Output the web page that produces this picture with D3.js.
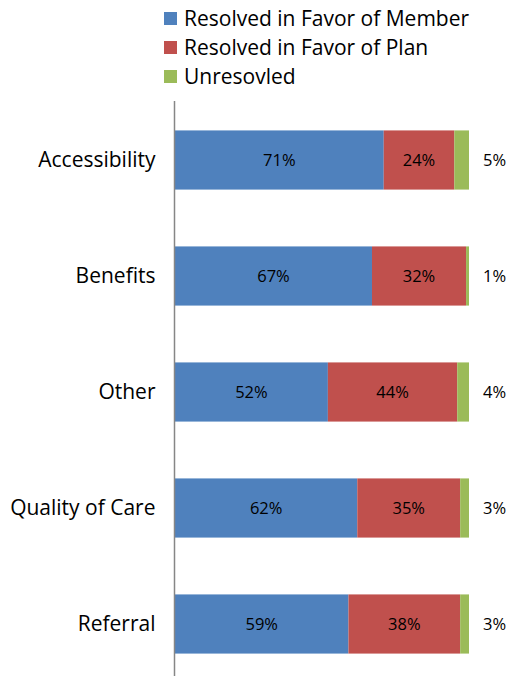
<!DOCTYPE html>
<html><head><meta charset="utf-8">
<script src="https://cdn.jsdelivr.net/npm/d3@7"></script>
<style>body{margin:0;background:#fff}svg{display:block}text{font-family:"Open Sans",sans-serif;fill:#000}</style>
</head><body>
<script>
const categories = ["Accessibility","Benefits","Other","Quality of Care","Referral"];
const seriesNames = ["Resolved in Favor of Member","Resolved in Favor of Plan","Unresovled"];
const member = [71,67,52,62,59];
const plan = [24,32,44,35,38];
const unresolved = [5,1,4,3,3];
const colors = ["#4F81BD","#C0504D","#9BBB59"];

const W=508,H=676;
const svg=d3.select("body").append("svg").attr("width",W).attr("height",H);
const x=d3.scaleLinear().domain([0,100]).range([175,469]);
const y=d3.scaleBand().domain(categories).range([102,682]).paddingInner(0.49).paddingOuter(0.245);

const rows=categories.map((c,i)=>({cat:c,member:member[i],plan:plan[i],unresolved:unresolved[i]}));
const stack=d3.stack().keys(["member","plan","unresolved"])(rows);

stack.forEach((layer,li)=>{
  const g=svg.append("g");
  g.selectAll("rect").data(layer).join("rect")
    .attr("x",d=>x(d[0])).attr("width",d=>x(d[1])-x(d[0]))
    .attr("y",d=>y(d.data.cat)).attr("height",y.bandwidth())
    .attr("fill",colors[li]);
  g.selectAll("text").data(layer).join("text")
    .attr("x",d=>li<2?(x(d[0])+x(d[1]))/2:x(100)+14)
    .attr("y",d=>y(d.data.cat)+y.bandwidth()/2)
    .attr("dy","0.35em")
    .attr("text-anchor",li<2?"middle":"start")
    .style("font-size","16.5px")
    .text(d=>(d[1]-d[0])+"%");
});

const yAxis=svg.append("g").attr("transform","translate(174.5,0)").call(d3.axisLeft(y).tickSize(0).tickPadding(19));
yAxis.select(".domain").remove();
yAxis.selectAll("text").style("font-size","21px").attr("font-family","'Open Sans',sans-serif");
svg.append("line").attr("x1",174.5).attr("x2",174.5).attr("y1",101).attr("y2",676).attr("stroke","#868686").attr("stroke-width",1.5);

const leg=svg.append("g");
seriesNames.forEach((n,i)=>{
  leg.append("rect").attr("x",164).attr("y",12+i*29).attr("width",13).attr("height",13).attr("fill",colors[i]);
  leg.append("text").attr("x",184).attr("y",18.5+i*29).attr("dy","0.35em").style("font-size","21px").text(n);
});
</script>
</body></html>
